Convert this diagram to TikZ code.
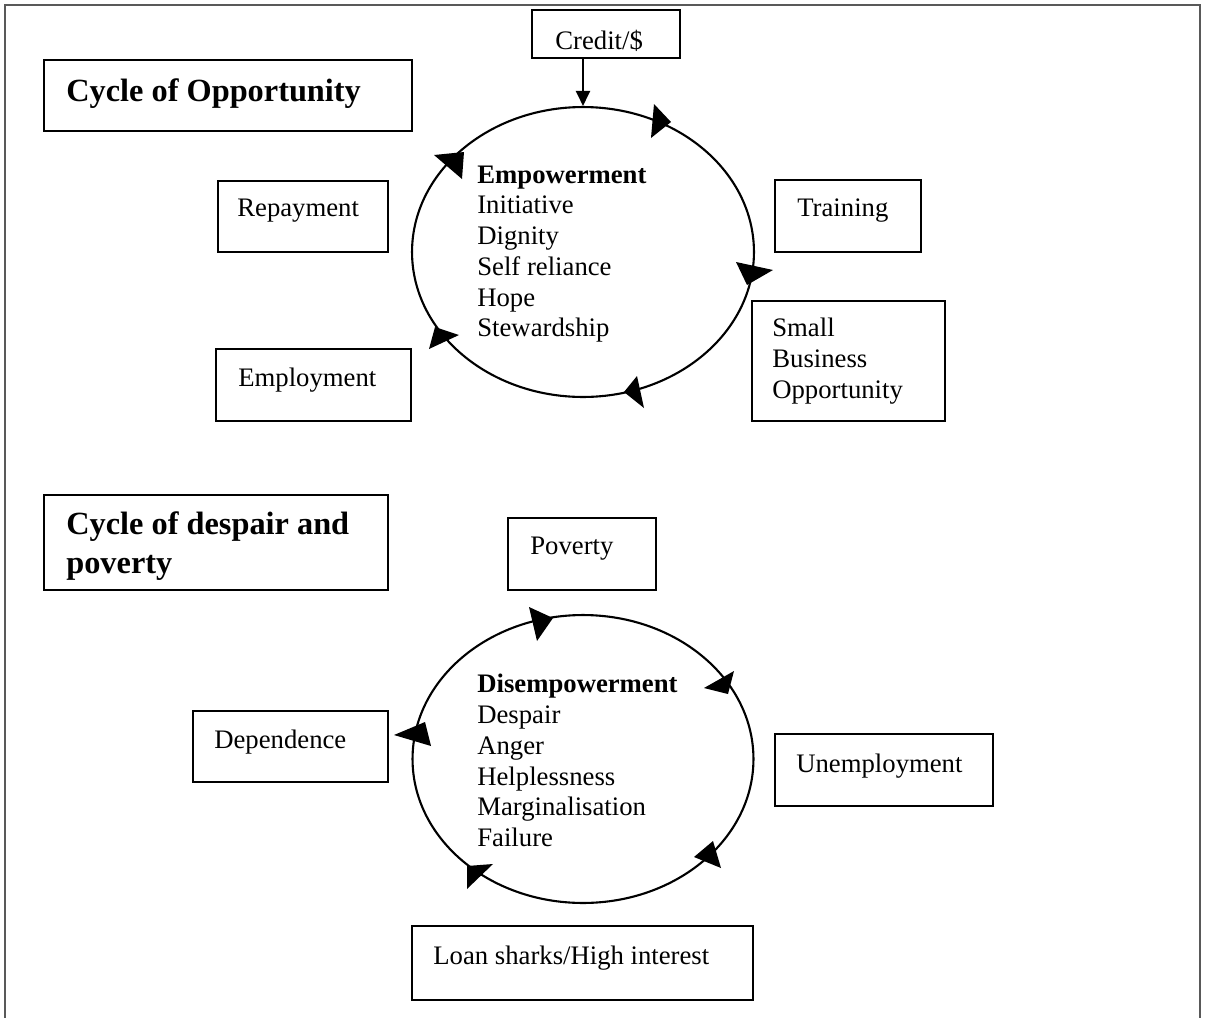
\documentclass[tikz,border=0pt]{standalone}
\usepackage{fontspec}
\setmainfont{Liberation Serif}
\usetikzlibrary{arrows.meta, calc, shapes.geometric}

\begin{document}
\begin{tikzpicture}[x=0.02cm, y=-0.02cm, >={Triangle[length=3mm, width=2.8mm]},
  every node/.style={inner sep=0pt},
  panel/.style={draw, line width=1.1pt, rectangle},
  ring/.style={draw, line width=1.2pt, ellipse},
  txt/.style={anchor=west, align=left, font=\fontsize{15.2}{17.5}\selectfont},
  ttl/.style={anchor=west, align=left, font=\fontsize{18.4}{22}\selectfont\bfseries},
  head/.style={fill=black}]
  \useasboundingbox (0,0) rectangle (1205,1018);
  % outer frame, open at the bottom
  \draw[black!65, line width=1.1pt] (5,1018) -- (5,5) -- (1200,5) -- (1200,1018);

  % cycle of opportunity
  \node[panel, minimum width=7.36cm, minimum height=1.42cm] (oppTitle) at (228,95.5) {};
  \node[ttl] (oppTitleText) at (66,94) {Cycle of Opportunity};
  \node[panel, minimum width=2.96cm, minimum height=0.96cm] (credit) at (606,34) {};
  \node[txt] (creditText) at (555,41) {Credit/\$};
  \node[panel, minimum width=3.4cm, minimum height=1.42cm] (repay) at (303,216.5) {};
  \node[txt] (repayText) at (237,211) {Repayment};
  \node[panel, minimum width=2.92cm, minimum height=1.44cm] (training) at (848,216) {};
  \node[txt] (trainingText) at (797,211) {Training};
  \node[panel, minimum width=3.86cm, minimum height=2.4cm] (smallBiz) at (848.5,361) {};
  \node[txt] (smallBizText) at (772,361) {Small\\Business\\Opportunity};
  \node[panel, minimum width=3.9cm, minimum height=1.44cm] (employ) at (313.5,385) {};
  \node[txt] (employText) at (238,380) {Employment};

  \node[ring, minimum width=6.84cm, minimum height=5.8cm] (empCycle) at (583,252) {};
  \node[txt] (empText) at (477,254) {\textbf{Empowerment}\\Initiative\\Dignity\\Self reliance\\Hope\\Stewardship};
  \draw[line width=1.1pt, ->] (credit.south -| empCycle.north) -- (empCycle.north);

  \fill[head] (654,104) -- (671,122) -- (651,138) -- cycle;
  \fill[head] (736,262) -- (773,270) -- (747,285) -- cycle;
  \fill[head] (637,376) -- (624,392) -- (644,408) -- cycle;
  \fill[head] (435,327) -- (459,335) -- (429,349) -- cycle;
  \fill[head] (434,155) -- (464,152) -- (462,179) -- cycle;

  % cycle of despair and poverty
  \node[panel, minimum width=6.88cm, minimum height=1.9cm] (despTitle) at (216,542.5) {};
  \node[ttl] (despTitleText) at (66,546) {Cycle of despair and\\poverty};
  \node[panel, minimum width=2.96cm, minimum height=1.44cm] (poverty) at (582,554) {};
  \node[txt] (povertyText) at (530,549) {Poverty};
  \node[panel, minimum width=3.9cm, minimum height=1.42cm] (depend) at (290.5,746.5) {};
  \node[txt] (dependText) at (214,742) {Dependence};
  \node[panel, minimum width=4.36cm, minimum height=1.44cm] (unemploy) at (884,770) {};
  \node[txt] (unemployText) at (796,766) {Unemployment};
  \node[panel, minimum width=6.82cm, minimum height=1.48cm] (loan) at (582.5,963) {};
  \node[txt] (loanText) at (433,958) {Loan sharks/High interest};

  \node[ring, minimum width=6.82cm, minimum height=5.76cm] (desCycle) at (583,759) {};
  \node[txt] (desText) at (477,760.5) {\textbf{Disempowerment}\\Despair\\Anger\\Helplessness\\Marginalisation\\Failure};

  \fill[head] (529,607) -- (553,618) -- (537,641) -- cycle;
  \fill[head] (704,688) -- (734,671) -- (728,694) -- cycle;
  \fill[head] (394,735) -- (425,722) -- (431,746) -- cycle;
  \fill[head] (694,857) -- (713,841) -- (721,868) -- cycle;
  \fill[head] (467,866) -- (493,864) -- (467,889) -- cycle;
\end{tikzpicture}
\end{document}
